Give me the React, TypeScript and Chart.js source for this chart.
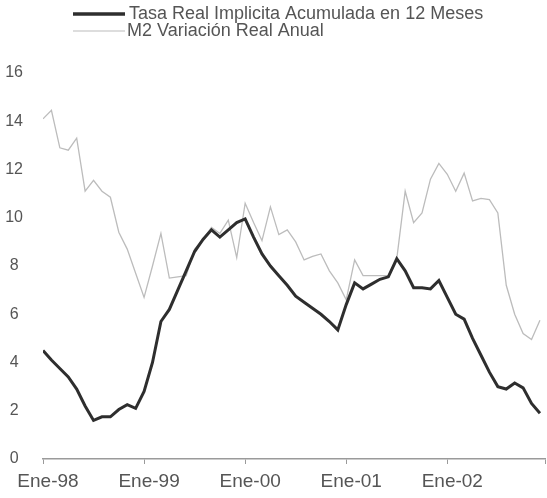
import React, { useEffect, useRef } from 'react';
import { Chart, registerables } from 'chart.js';

Chart.register(...registerables);

// Monthly series, Ene-98 .. Dic-02 (index 0 = Ene-98)
const tasaReal: number[] = [
  4.5, 4.1, 3.75, 3.4, 2.9, 2.2, 1.6, 1.75, 1.75, 2.05, 2.25, 2.1,
  2.8, 4.0, 5.7, 6.2, 7.0, 7.8, 8.6, 9.1, 9.5, 9.2, 9.5, 9.8,
  9.95, 9.2, 8.5, 8.0, 7.6, 7.2, 6.75, 6.5, 6.25, 6.0, 5.7, 5.35,
  6.4, 7.3, 7.05, 7.25, 7.45, 7.55, 8.3, 7.8, 7.1, 7.1, 7.05, 7.4,
  6.7, 6.0, 5.8, 5.0, 4.3, 3.6, 3.0, 2.9, 3.15, 2.95, 2.3, 1.9,
];

const m2Real: number[] = [
  14.1, 14.45, 12.9, 12.8, 13.3, 11.1, 11.55, 11.1, 10.85, 9.4, 8.7, 7.7,
  6.7, 8.0, 9.35, 7.5, 7.55, 7.6, 8.7, 9.1, 9.6, 9.35, 9.9, 8.35,
  10.6, 9.8, 9.05, 10.45, 9.3, 9.5, 9.0, 8.25, 8.4, 8.5, 7.8, 7.3,
  6.6, 8.25, 7.6, 7.6, 7.6, 7.6, 8.3, 11.1, 9.8, 10.2, 11.6, 12.25,
  11.8, 11.1, 11.85, 10.7, 10.8, 10.75, 10.2, 7.2, 6.0, 5.2, 4.95, 5.75,
];

const tickLabels: string[] = ['Ene-98', 'Ene-99', 'Ene-00', 'Ene-01', 'Ene-02', ''];
const seriesNames: string[] = ['Tasa Real Implicita Acumulada en 12 Meses', 'M2 Variación Real Anual'];

const FONT = '"Liberation Sans", Arial, sans-serif';
const TEXT = '#555';

const legendPlugin = {
  id: 'customLegend',
  afterDraw(chart: any) {
    const ctx = chart.ctx;
    const rows = [14, 31];
    ctx.save();
    chart.data.datasets.forEach((ds: any, i: number) => {
      const y = rows[i];
      ctx.strokeStyle = ds.borderColor;
      ctx.lineWidth = i === 0 ? 3.5 : 1.2;
      ctx.beginPath();
      ctx.moveTo(73, y);
      ctx.lineTo(125, y);
      ctx.stroke();
      ctx.fillStyle = TEXT;
      ctx.font = `18px ${FONT}`;
      ctx.textBaseline = 'middle';
      ctx.textAlign = 'left';
      ctx.fillText(ds.label, i === 0 ? 129 : 127, y);
    });
    ctx.restore();
  },
};

export default function App() {
  const ref = useRef<HTMLCanvasElement | null>(null);

  useEffect(() => {
    if (!ref.current) return;
    const chart = new Chart(ref.current, {
      type: 'line',
      data: {
        datasets: [
          {
            label: seriesNames[0],
            data: tasaReal.map((v, i) => ({ x: i, y: v })),
            borderColor: '#2e2e2e',
            borderWidth: 3,
            pointRadius: 0,
            tension: 0,
            fill: false,
          },
          {
            label: seriesNames[1],
            data: m2Real.map((v, i) => ({ x: i, y: v })),
            borderColor: '#bcbcbc',
            borderWidth: 1.3,
            pointRadius: 0,
            tension: 0,
            fill: false,
          },
        ],
      },
      options: {
        responsive: false,
        animation: false,
        layout: { padding: { top: 73, right: 2, left: 0, bottom: 0 } },
        plugins: {
          legend: { display: false },
          tooltip: { enabled: false },
        },
        scales: {
          x: {
            type: 'linear',
            min: 0,
            max: 59.6,
            afterFit: (s: any) => {
              s.height = 39;
              s.paddingLeft = 0;
              s.paddingRight = 0;
            },
            border: { display: true, color: '#9a9a9a', width: 1.5 },
            grid: {
              display: true,
              drawOnChartArea: false,
              drawTicks: true,
              tickLength: 5,
              color: '#9a9a9a',
            },
            ticks: {
              stepSize: 12,
              autoSkip: false,
              maxRotation: 0,
              padding: 6,
              labelOffset: 5,
              color: TEXT,
              font: { family: FONT, size: 19 },
              callback: (v: any) => tickLabels[Math.round(Number(v) / 12)] ?? '',
            },
          },
          y: {
            min: 0,
            max: 16,
            afterFit: (s: any) => { s.width = 43; },
            border: { display: false },
            grid: { display: false },
            ticks: {
              stepSize: 2,
              crossAlign: 'center',
              padding: 12,
              color: TEXT,
              font: { family: FONT, size: 16 },
            },
          },
        },
      },
      plugins: [legendPlugin],
    });
    return () => chart.destroy();
  }, []);

  return (
    <div style={{ position: 'absolute', left: 0, top: 0, width: 547, height: 498, background: '#fff' }}>
      <canvas ref={ref} width={547} height={498} />
    </div>
  );
}
